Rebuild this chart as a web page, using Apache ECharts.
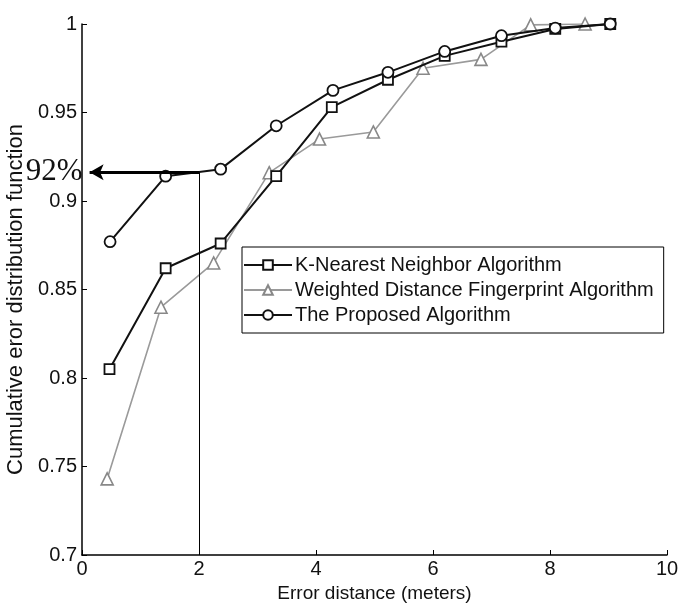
<!DOCTYPE html>
<html>
<head>
<meta charset="utf-8">
<script src="https://cdn.jsdelivr.net/npm/echarts@6/dist/echarts.min.js"></script>
<style>
  html, body { margin: 0; padding: 0; background: #fff; }
  #chart { width: 681px; height: 604px; }
</style>
</head>
<body>
<div id="chart"></div>
<script>
// Error distance (m) at which each CDF sample was taken
const knnX = [0.47, 1.43, 2.37, 3.32, 4.27, 5.23, 6.2, 7.17, 8.09, 9.03];
const knnY = [0.805, 0.862, 0.876, 0.914, 0.953, 0.9685, 0.982, 0.990, 0.9972, 1.0];

const wdfX = [0.43, 1.35, 2.25, 3.2, 4.06, 4.98, 5.83, 6.82, 7.67, 8.6];
const wdfY = [0.743, 0.840, 0.865, 0.916, 0.935, 0.939, 0.975, 0.980, 0.9995, 1.0];

const propX = [0.48, 1.43, 2.37, 3.32, 4.29, 5.23, 6.2, 7.17, 8.09, 9.03];
const propY = [0.877, 0.914, 0.918, 0.9425, 0.9625, 0.9727, 0.9845, 0.9934, 0.9977, 1.0];

const seriesNames = [
  'K-Nearest Neighbor Algorithm',
  'Weighted Distance Fingerprint Algorithm',
  'The Proposed Algorithm'
];

// 92% reading at 2 m
const markX = 2;
const markY = 0.9163;
const arrowTipX = 0.13;
const markText = '92%';

const xTicks = { min: 0, max: 10, interval: 2 };
const yTicks = { min: 0.7, max: 1, interval: 0.05 };

function pairs(xs, ys) { return xs.map((x, i) => [x, ys[i]]); }

const sans = 'Arial, "Liberation Sans", sans-serif';
const chart = echarts.init(document.getElementById('chart'), null, { renderer: 'canvas' });

chart.setOption({
  animation: false,
  backgroundColor: '#ffffff',
  grid: { left: 82, top: 24, right: 14, bottom: 49, outerBoundsMode: 'none', containLabel: false },
  xAxis: {
    type: 'value',
    min: xTicks.min, max: xTicks.max, interval: xTicks.interval,
    name: 'Error distance (meters)',
    nameLocation: 'middle',
    nameGap: 26,
    nameTextStyle: { fontFamily: sans, fontSize: 19, color: '#111' },
    axisLine: { lineStyle: { color: '#000', width: 1.5 } },
    axisTick: { inside: true, length: 5, lineStyle: { color: '#000' } },
    axisLabel: { fontFamily: sans, fontSize: 20, color: '#111', margin: 4 },
    splitLine: { show: false }
  },
  yAxis: {
    type: 'value',
    min: yTicks.min, max: yTicks.max, interval: yTicks.interval,
    name: 'Cumulative eror distribution function',
    nameLocation: 'middle',
    nameGap: 51,
    nameTextStyle: { fontFamily: sans, fontSize: 22, color: '#111', padding: [0, 20, 0, 0] },
    axisLine: { show: true, lineStyle: { color: '#000', width: 1.5 } },
    axisTick: { show: true, inside: true, length: 5, lineStyle: { color: '#000' } },
    axisLabel: { fontFamily: sans, fontSize: 20, color: '#111', margin: 5 },
    splitLine: { show: false }
  },
  legend: {
    orient: 'vertical',
    left: 242, top: 247,
    padding: [8, 10, 8, 1],
    itemGap: 5,
    itemWidth: 48,
    itemHeight: 12,
    backgroundColor: '#fff',
    borderColor: '#000',
    borderWidth: 1,
    borderRadius: 0,
    textStyle: { fontFamily: sans, fontSize: 20, color: '#111', lineHeight: 20, padding: [0, 0, 0, -2] },
    data: seriesNames
  },
  series: [
    {
      name: seriesNames[0],
      type: 'line',
      data: pairs(knnX, knnY),
      symbol: 'rect',
      symbolSize: 10,
      lineStyle: { color: '#111', width: 2 },
      itemStyle: { color: '#fff', borderColor: '#111', borderWidth: 1.8 },
      z: 3
    },
    {
      name: seriesNames[1],
      type: 'line',
      data: pairs(wdfX, wdfY),
      symbol: 'triangle',
      symbolSize: 12,
      lineStyle: { color: '#9a9a9a', width: 1.6 },
      itemStyle: { color: '#fff', borderColor: '#888', borderWidth: 1.6 },
      z: 2
    },
    {
      name: seriesNames[2],
      type: 'line',
      data: pairs(propX, propY),
      symbol: 'circle',
      symbolSize: 11,
      lineStyle: { color: '#111', width: 2 },
      itemStyle: { color: '#fff', borderColor: '#111', borderWidth: 1.8 },
      z: 4,
      markLine: {
        silent: true,
        animation: false,
        symbol: 'none',
        label: { show: false },
        data: [
          [
            { coord: [markX, markY], symbol: 'none',
              lineStyle: { color: '#000', width: 3.2, type: 'solid' } },
            { coord: [arrowTipX, markY], symbol: 'arrow', symbolSize: [12, 14],
              label: {
                show: true, position: 'end', formatter: markText, distance: 7,
                fontFamily: '"Times New Roman", "Liberation Serif", serif',
                fontSize: 31, color: '#111'
              } }
          ],
          [
            { coord: [markX, yTicks.min], symbol: 'none',
              lineStyle: { color: '#000', width: 1, type: 'solid' } },
            { coord: [markX, markY], symbol: 'none' }
          ]
        ],
        itemStyle: { color: '#888', borderColor: '#000', borderWidth: 1 }
      }
    }
  ]
});
</script>
</body>
</html>
